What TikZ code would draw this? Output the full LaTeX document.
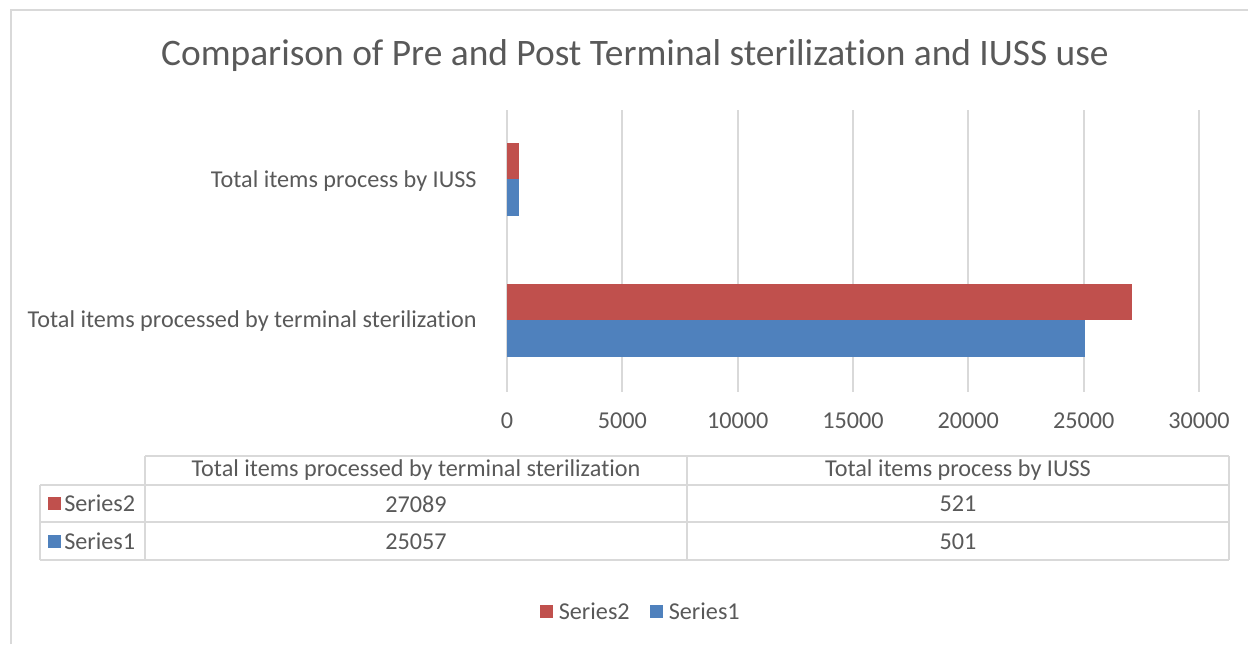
\documentclass[tikz,border=0pt]{standalone}
\usepackage{fontspec}
\setmainfont{Carlito}[Ligatures=NoCommon]
\usetikzlibrary{positioning}

\definecolor{serTwo}{HTML}{C0504D}
\definecolor{serOne}{HTML}{4F81BD}
\definecolor{txtgray}{HTML}{595959}
\definecolor{linegray}{HTML}{D9D9D9}

\begin{document}
\begin{tikzpicture}[x=0.5pt, y=-0.5pt,
  every node/.style={text=txtgray, inner sep=0pt, font=\fontsize{12.1}{14}\selectfont},
  gridline/.style={draw=linegray, line width=1pt},
  tableline/.style={draw=linegray, line width=1pt},
  keybox/.style={minimum size=6.5pt, inner sep=0pt}]

\useasboundingbox (0,0) rectangle (1248,644);

% Chart frame
\draw[linegray, line width=0.8pt] (11,644) -- (11,10) -- (1248,10);

% Title
\node[font=\fontsize{18.7}{22}\selectfont] (title) at (635,56) {Comparison of Pre and Post Terminal sterilization and IUSS use};

% Gridlines
\draw[gridline] (507,110) -- (507,392);
\draw[gridline] (622.3,110) -- (622.3,392);
\draw[gridline] (737.7,110) -- (737.7,392);
\draw[gridline] (853,110) -- (853,392);
\draw[gridline] (968.3,110) -- (968.3,392);
\draw[gridline] (1083.7,110) -- (1083.7,392);
\draw[gridline] (1199,110) -- (1199,392);

% Axis values
\node (t0) at (507,421) {0};
\node (t5) at (622.3,421) {5000};
\node (t10) at (737.7,421) {10000};
\node (t15) at (853,421) {15000};
\node (t20) at (968.3,421) {20000};
\node (t25) at (1083.7,421) {25000};
\node (t30) at (1199,421) {30000};

% Categories
\node[anchor=east] (catIUSS) at (477,181) {Total items process by IUSS};
\node[anchor=east] (catTerm) at (477,321) {Total items processed by terminal sterilization};

% Bars
\fill[serTwo] (507,143) rectangle ({507+0.521*23.067},179);
\fill[serOne] (507,179) rectangle ({507+0.501*23.067},216);
\fill[serTwo] (507,284) rectangle ({507+27.089*23.067},320);
\fill[serOne] (507,320) rectangle ({507+25.057*23.067},357);

% Data table
\draw[tableline] (145,456) -- (1229,456);
\draw[tableline] (40,485) -- (1229,485);
\draw[tableline] (40,522) -- (1229,522);
\draw[tableline] (40,560) -- (1229,560);
\draw[tableline] (40,485) -- (40,560);
\draw[tableline] (145,456) -- (145,560);
\draw[tableline] (687,456) -- (687,560);
\draw[tableline] (1229,456) -- (1229,560);

\node (hdTerm) at (416,470) {Total items processed by terminal sterilization};
\node (hdIUSS) at (958,470) {Total items process by IUSS};

\node[keybox, fill=serTwo] (rowTwoKey) at (54,503) {};
\node[right=1.5pt of rowTwoKey] (rowTwo) {Series2};
\node[keybox, fill=serOne] (rowOneKey) at (54,541) {};
\node[right=1.5pt of rowOneKey] (rowOne) {Series1};

\node (termTwo) at (416,504) {27089};
\node (iussTwo) at (958,504) {521};
\node (termOne) at (416,542) {25057};
\node (iussOne) at (958,542) {501};

% Legend
\node[keybox, fill=serTwo] (legTwoKey) at (546.5,611) {};
\node[right=2.5pt of legTwoKey] (legTwo) {Series2};
\node[keybox, fill=serOne] (legOneKey) at (656.5,611) {};
\node[right=2.5pt of legOneKey] (legOne) {Series1};

\end{tikzpicture}
\end{document}
